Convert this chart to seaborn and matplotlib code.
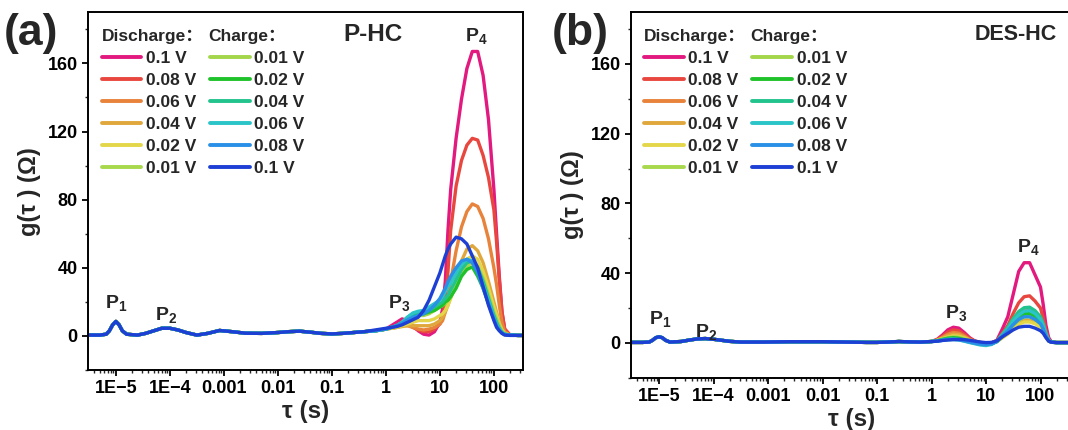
import numpy as np
import pandas as pd
import matplotlib
matplotlib.use("Agg")
import matplotlib.pyplot as plt
import seaborn as sns
from matplotlib.lines import Line2D
from matplotlib.ticker import LogLocator, MultipleLocator, NullFormatter

# ------------------------------------------------------------------ data
discharge_labels = ["0.1 V", "0.08 V", "0.06 V", "0.04 V", "0.02 V", "0.01 V"]
charge_labels = ["0.01 V", "0.02 V", "0.04 V", "0.06 V", "0.08 V", "0.1 V"]
discharge_colors = ["#E2197F", "#E8473F", "#E8833B", "#E0A83C", "#E4D64A", "#A8D84C"]
charge_colors = ["#A3D64A", "#1FC22B", "#22C38C", "#2BC4C9", "#2A8FE6", "#1E3FD4"]

xtick_vals = [1e-5, 1e-4, 1e-3, 1e-2, 1e-1, 1, 10, 100]
xtick_labels = ["1E\u22125", "1E\u22124", "0.001", "0.01", "0.1", "1", "10", "100"]
ytick_vals = [0, 40, 80, 120, 160]

# shared low-tau part (log10 tau)
log_tau_low = [-5.55, -5.3, -5.18, -5.12, -5.06, -5.0, -4.94, -4.88, -4.8,
               -4.6, -4.45, -4.3, -4.15, -4.0, -3.85, -3.7,
               -3.5, -3.3, -3.08, -2.85, -2.6, -2.3, -2.0,
               -1.8, -1.6, -1.4, -1.2, -1.0, -0.8, -0.6, -0.4]
g_low_a = [0.5, 0.5, 1.0, 3.0, 6.5, 8.5, 6.5, 3.0, 1.0,
           0.5, 1.5, 3.0, 4.5, 4.5, 3.5, 2.0,
           0.5, 1.5, 3.2, 2.5, 1.6, 1.5, 2.0,
           2.5, 2.8, 2.2, 1.5, 1.2, 1.5, 2.0, 2.5]
g_low_b = [0.3, 0.3, 0.5, 1.5, 3.0, 3.5, 3.0, 1.5, 0.5,
           0.8, 1.6, 2.3, 2.5, 2.1, 1.5, 0.9,
           0.5, 0.5, 0.5, 0.6, 0.7, 0.7, 0.7,
           0.6, 0.5, 0.4, 0.3, 0.3, 0.5, 0.8, 0.6]

# panel (a) P-HC, high-tau part
log_tau_high_a = [-0.2, 0.0, 0.2, 0.3, 0.4, 0.5, 0.6, 0.7, 0.8, 0.9, 1.0, 1.05, 1.1, 1.15,
                  1.2, 1.3, 1.4, 1.5, 1.6, 1.7, 1.8, 1.9, 2.0, 2.05, 2.1, 2.15, 2.2, 2.3, 2.45, 2.6]
a_dis_010 = [3, 4, 8, 10, 9, 6, 3, 1, 0.5, 2.5, 8, 16, 32, 62,
             86, 116, 139, 157, 167, 167, 153, 127, 86, 60, 35, 14, 4, 0.5, 0.3, 0.3]
a_dis_008 = [3, 4, 6, 7, 7, 5, 3.5, 2.5, 2.5, 4, 7, 11, 20, 38,
             62, 88, 103, 112, 116, 115, 106, 93, 74, 55, 33, 14, 4, 0.5, 0.3, 0.3]
a_dis_006 = [3, 4, 5, 6, 6, 5, 4, 3.5, 4, 5, 7, 9, 14, 22,
             32, 50, 64, 73, 77.5, 76, 69, 57, 40, 30, 18, 8, 2.5, 0.5, 0.3, 0.3]
a_dis_004 = [3, 4, 5, 5.5, 6, 6, 6, 6, 6, 7, 9, 11, 14, 18,
             23, 34, 44, 51, 53, 50, 43, 32, 20, 14, 8, 4, 1.5, 0.5, 0.3, 0.3]
a_dis_002 = [3, 4, 5, 6, 7, 8, 9, 9, 9, 10, 12, 13, 15, 18,
             22, 31, 39, 45, 47, 45, 38, 28, 17, 12, 7, 3.5, 1.5, 0.5, 0.3, 0.3]
a_dis_001 = [3, 4, 6, 7, 9, 11, 12, 12, 13, 15, 17, 18, 19, 21,
             23, 29, 36, 42, 44, 41, 34, 24, 14, 10, 6, 3, 1, 0.5, 0.3, 0.3]
a_ch_001 = [3, 4, 6, 7.5, 9.5, 11.5, 12.5, 12.5, 13.5, 15, 17, 18, 19.5, 21,
            23, 29, 36, 41, 43, 40, 33, 23, 13, 9, 5.5, 2.5, 1, 0.5, 0.3, 0.3]
a_ch_002 = [3, 4, 6, 8, 10, 12, 13, 13, 14, 15, 17, 18, 20, 21,
            23, 28, 35, 39, 40.5, 35, 28, 19, 11, 7, 4, 2, 1, 0.5, 0.3, 0.3]
a_ch_004 = [3, 4, 6, 8, 11, 13, 14, 14, 15, 17, 19, 20, 22, 24,
            27, 33, 39, 43, 44, 40, 32, 22, 12, 8, 4.5, 2, 1, 0.5, 0.3, 0.3]
a_ch_006 = [3, 4, 6, 8, 11, 13.5, 14.5, 15, 17, 19, 21, 23, 26, 29,
            31, 37, 42, 45, 44, 39, 30, 21, 11, 7, 4, 2, 1, 0.5, 0.3, 0.3]
a_ch_008 = [3, 4, 6, 7.5, 9.5, 11, 12, 13, 15, 18, 22, 25, 28, 32,
            35, 40, 44, 45, 43, 37, 28, 19, 10, 6, 3.5, 1.5, 0.8, 0.5, 0.3, 0.3]
a_ch_010 = [3.5, 4.5, 5.5, 6.5, 8, 9.5, 11, 15, 21, 29, 37, 42, 47, 51,
            54, 58, 57, 54, 47, 40, 29, 18, 9, 5, 3, 1.5, 0.5, 0.3, 0.3, 0.3]

# panel (b) DES-HC, high-tau part
log_tau_high_b = [-0.2, 0.0, 0.1, 0.2, 0.3, 0.4, 0.5, 0.6, 0.7, 0.8, 0.9, 1.0, 1.1, 1.2, 1.3,
                  1.4, 1.5, 1.6, 1.7, 1.8, 1.9, 2.0, 2.05, 2.1, 2.15, 2.2, 2.3, 2.5, 2.9]
b_dis_010 = [0.5, 0.8, 2, 4.5, 7.5, 9, 8.5, 6, 3, 1, 0.2, 0, 0, 1.5, 8,
             15, 28, 41, 46, 46, 39, 32, 22, 10, 3, 0.5, 0.2, 0.2, 0.2]
b_dis_008 = [0.5, 0.8, 1.8, 3.8, 6.2, 7.5, 7, 5, 2.5, 1, 0.2, 0, 0, 1.2, 5.5,
             10, 17, 23, 26.5, 27, 24, 20, 14, 7, 2, 0.5, 0.2, 0.2, 0.2]
b_dis_006 = [0.5, 0.8, 1.6, 3.2, 5, 6, 5.6, 4, 2, 0.8, 0.2, 0, 0, 1, 4,
             7.5, 12, 16, 18.5, 19, 17, 14, 10, 5, 1.5, 0.5, 0.2, 0.2, 0.2]
b_dis_004 = [0.5, 0.8, 1.5, 2.8, 4.2, 5, 4.7, 3.4, 1.8, 0.7, 0.2, 0, 0, 0.8, 3,
             5.5, 8.5, 11.5, 13, 13, 12, 10, 7, 3.5, 1, 0.4, 0.2, 0.2, 0.2]
b_dis_002 = [0.5, 0.8, 1.4, 2.4, 3.4, 4, 3.8, 2.8, 1.5, 0.6, 0.1, 0, 0, 0.8, 3,
             5, 8, 10.5, 12, 12, 11, 9, 6.5, 3.2, 1, 0.4, 0.2, 0.2, 0.2]
b_dis_001 = [0.5, 0.8, 1.3, 2.2, 3, 3.5, 3.3, 2.5, 1.3, 0.5, 0, -0.2, -0.2, 0.8, 3.5,
             6.5, 10, 13, 14.8, 15, 13.5, 11, 8, 4, 1.2, 0.4, 0.2, 0.2, 0.2]
b_ch_001 = [0.5, 0.8, 1.2, 2, 2.7, 3, 2.8, 2, 1, 0.3, -0.2, -0.4, -0.3, 0.8, 3.8,
            7, 10.5, 14, 15.8, 16, 14.5, 12, 8.5, 4.2, 1.2, 0.4, 0.2, 0.2, 0.2]
b_ch_002 = [0.5, 0.8, 1.2, 2, 2.7, 3, 2.7, 1.8, 0.8, 0.1, -0.4, -0.6, -0.4, 0.8, 4,
            7.5, 11.5, 15, 16.8, 17, 15.5, 12.5, 9, 4.5, 1.3, 0.4, 0.2, 0.2, 0.2]
b_ch_004 = [0.5, 0.8, 1.1, 1.8, 2.3, 2.5, 2.2, 1.4, 0.5, -0.2, -0.8, -1, -0.6, 1, 5,
            9, 14, 18, 20.2, 20.5, 18.5, 15, 11, 5.5, 1.5, 0.4, 0.2, 0.2, 0.2]
b_ch_006 = [0.5, 0.8, 1, 1.5, 1.9, 2, 1.7, 1, 0.2, -0.5, -1.2, -1.5, -0.9, 0.8, 4.5,
            8, 12.5, 16, 18.2, 18.5, 16.8, 13.5, 10, 5, 1.4, 0.4, 0.2, 0.2, 0.2]
b_ch_008 = [0.5, 0.8, 1, 1.5, 1.9, 2, 1.8, 1.2, 0.5, -0.2, -0.7, -1, -0.6, 0.8, 4,
            7, 10.5, 13.5, 15, 15, 13.5, 11, 8, 4, 1.2, 0.4, 0.2, 0.2, 0.2]
b_ch_010 = [0.5, 0.8, 1, 1.4, 1.7, 1.9, 2, 1.9, 1.5, 1, 0.5, 0.2, 0.3, 1.2, 3.5,
            5.5, 7.5, 9, 9.5, 9.5, 8.5, 7, 5.5, 3, 1, 0.4, 0.2, 0.2, 0.2]

series_a = [a_dis_010, a_dis_008, a_dis_006, a_dis_004, a_dis_002, a_dis_001,
            a_ch_001, a_ch_002, a_ch_004, a_ch_006, a_ch_008, a_ch_010]
series_b = [b_dis_010, b_dis_008, b_dis_006, b_dis_004, b_dis_002, b_dis_001,
            b_ch_001, b_ch_002, b_ch_004, b_ch_006, b_ch_008, b_ch_010]

# peak labels (tau, g)
peaks_a = [(1e-5, 19.5, "1"), (8.5e-5, 12.5, "2"), (1.75, 19.5, "3"), (48, 176, "4")]
peaks_b = [(1.05e-5, 13.5, "1"), (7.2e-5, 6.5, "2"), (2.85, 17, "3"), (59, 55, "4")]

# ------------------------------------------------------------------ style
sns.set_theme(style="ticks")
FONT = ["Liberation Sans", "Noto Sans CJK SC", "DejaVu Sans"]
plt.rcParams["font.family"] = FONT
plt.rcParams["font.weight"] = "bold"
plt.rcParams["axes.labelweight"] = "bold"
plt.rcParams["mathtext.fontset"] = "custom"
plt.rcParams["mathtext.rm"] = "Liberation Sans:bold"
plt.rcParams["mathtext.bf"] = "Liberation Sans:bold"
plt.rcParams["mathtext.it"] = "Liberation Sans:bold"
plt.rcParams["mathtext.default"] = "bf"

colors = discharge_colors + charge_colors
keys = ["D " + l for l in discharge_labels] + ["C " + l for l in charge_labels]
LW = 2.4


def build_df(high_tau, series, low_g):
    rows = []
    for key, vals in zip(keys, series):
        lt = list(log_tau_low) + list(high_tau)
        gv = list(low_g) + list(vals)
        for t, g in zip(lt, gv):
            rows.append({"series": key, "tau": 10.0 ** t, "g": g})
    return pd.DataFrame(rows)


fig = plt.figure(figsize=(10.68, 4.30), dpi=100)
ax_a = fig.add_axes([88 / 1068, 1 - 370 / 430, 435 / 1068, 357.7 / 430])
ax_b = fig.add_axes([631 / 1068, 1 - 377.8 / 430, 441 / 1068, 366.2 / 430])

panels = [
    (ax_a, build_df(log_tau_high_a, series_a, g_low_a), (10 ** -5.516, 10 ** 2.539),
     "P-HC", 17.5, 0.655, peaks_a, "(a)", 4, (101.5, 56.2)),
    (ax_b, build_df(log_tau_high_b, series_b, g_low_b), (10 ** -5.514, 10 ** 2.578),
     "DES-HC", 15.5, 0.872, peaks_b, "(b)", 552, (643.7, 56.2)),
]

for ax, df, xlim, name, name_fs, name_x, peaks, tag, tag_x, leg in panels:
    sns.lineplot(data=df, x="tau", y="g", hue="series", hue_order=keys,
                 palette=colors, sort=False, estimator=None, legend=False,
                 lw=LW, ax=ax)
    ax.set_xscale("log")
    ax.set_xlim(*xlim)
    ax.set_ylim(-20, 190)
    ax.set_xticks(xtick_vals)
    ax.set_xticklabels(xtick_labels)
    ax.xaxis.set_minor_locator(LogLocator(base=10, subs=np.arange(2, 10), numticks=20))
    ax.xaxis.set_minor_formatter(NullFormatter())
    ax.set_yticks(ytick_vals)
    ax.yaxis.set_minor_locator(MultipleLocator(20))
    ax.tick_params(which="major", direction="out", length=4.5, width=1.3,
                   labelsize=13, pad=3, colors="black")
    ax.tick_params(which="minor", direction="out", length=2.5, width=1.0)
    ax.tick_params(top=False, right=False, which="both")
    for lab in ax.get_xticklabels() + ax.get_yticklabels():
        lab.set_fontweight("bold")
    for sp in ax.spines.values():
        sp.set_visible(True)
        sp.set_linewidth(1.4)
        sp.set_color("black")
    ax.set_xlabel("\u03c4 (s)", fontsize=17.5, fontweight="bold", labelpad=2)
    ax.set_ylabel("g(\u03c4 ) (\u03a9)", fontsize=17, fontweight="bold", labelpad=5)

    # sample name
    ax.text(name_x, 0.937, name, transform=ax.transAxes,
            fontsize=name_fs, fontweight="bold", ha="center", va="center")

    # peak labels
    for t, g, sub in peaks:
        ax.text(t, g, "$P_{%s}$" % sub, fontsize=14, ha="center", va="center")

    # legend headers
    x0, y_row = leg
    left_px = ax.get_position().x0 * 1068
    w_px = ax.get_position().width * 1068
    top_px = (1 - ax.get_position().y1) * 430
    h_px = ax.get_position().height * 430

    def fx(px):
        return (px - left_px) / w_px

    def fy(py):
        return 1 - (py - top_px) / h_px

    ax.text(fx(x0), fy(37), "Discharge\uff1a", transform=ax.transAxes, fontsize=12.5,
            fontweight="bold", ha="left", va="center", family=FONT)
    ax.text(fx(x0 + 107), fy(37), "Charge\uff1a", transform=ax.transAxes, fontsize=12.5,
            fontweight="bold", ha="left", va="center", family=FONT)

    handles = [Line2D([], [], color=c, lw=2.8) for c in colors]
    labels = discharge_labels + charge_labels
    lg = ax.legend(handles, labels, ncol=2, loc="upper left",
                   bbox_to_anchor=(fx(x0), fy(y_row - 5)), frameon=False,
                   fontsize=12.5, handlelength=2.3, handletextpad=0.28,
                   columnspacing=0.75, labelspacing=0.39, borderpad=0, borderaxespad=0)
    for t in lg.get_texts():
        t.set_fontweight("bold")

    fig.text(tag_x / 1068, 1 - 34 / 430, tag, fontsize=32, fontweight="bold",
             ha="left", va="center")

fig.savefig("out.png", dpi=100)
